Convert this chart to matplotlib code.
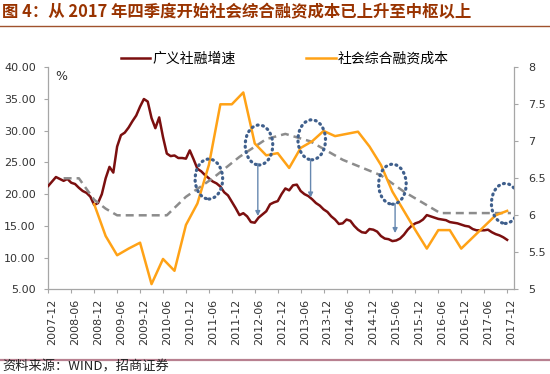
import numpy as np
import matplotlib
matplotlib.use('Agg')
import matplotlib.pyplot as plt
from matplotlib.patches import Ellipse
from matplotlib.lines import Line2D
import matplotlib.transforms as mtransforms

plt.rcParams['font.family'] = ['DejaVu Sans', 'Noto Sans CJK SC']

# ---------------- data ----------------
# month index 0 = 2007-12, 120 = 2017-12
tick_labels = ['2007-12', '2008-06', '2008-12', '2009-06', '2009-12', '2010-06',
               '2010-12', '2011-06', '2011-12', '2012-06', '2012-12', '2013-06',
               '2013-12', '2014-06', '2014-12', '2015-06', '2015-12', '2016-06',
               '2016-12', '2017-06', '2017-12']

# 广义社融增速 (%), monthly, left axis
tsf_growth = [
    21.3, 22.0, 22.7, 22.4, 22.1, 22.4, 21.8, 21.6, 21.0, 20.5,
    20.2, 19.6, 18.3, 18.6, 20.0, 22.5, 24.3, 23.4, 27.5, 29.3,
    29.7, 30.5, 31.5, 32.4, 33.8, 35.0, 34.6, 32.0, 30.4, 32.1,
    29.0, 26.4, 26.0, 26.1, 25.7, 25.7, 25.6, 26.9, 25.5, 24.0,
    23.6, 23.0, 22.5, 22.0, 21.7, 21.2, 20.3, 19.8, 18.8, 17.8,
    16.7, 17.0, 16.5, 15.6, 15.5, 16.3, 16.8, 17.3, 18.4, 18.7,
    18.9, 20.0, 20.9, 20.6, 21.4, 21.5, 20.5, 20.0, 19.7, 19.2,
    18.6, 18.2, 17.6, 17.2, 16.5, 16.0, 15.3, 15.4, 16.0, 15.8,
    15.0, 14.4, 14.0, 13.9, 14.5, 14.4, 14.1, 13.4, 13.0, 12.9,
    12.6, 12.7, 13.0, 13.6, 14.4, 15.0, 15.4, 15.6, 16.0, 16.7,
    16.5, 16.3, 16.1, 16.0, 15.9, 15.6, 15.5, 15.4, 15.2, 15.0,
    14.9, 14.5, 14.3, 14.3, 14.3, 14.4, 14.0, 13.7, 13.5, 13.2,
    12.8]

# 社会综合融资成本 (%), quarterly, right axis
cost_months = [12, 15, 18, 21, 24, 27, 30, 33, 36, 39, 42, 45, 48, 51, 54,
               57, 60, 63, 66, 69, 72, 75, 78, 81, 84, 87, 90, 93, 96, 99,
               102, 105, 108, 111, 114, 117, 120]
cost_values = [6.15, 5.72, 5.46, 5.55, 5.63, 5.07, 5.41, 5.25, 5.87, 6.16,
               6.68, 7.50, 7.50, 7.66, 6.97, 6.81, 6.84, 6.64, 6.91, 7.00,
               7.14, 7.07, 7.10, 7.13, 6.93, 6.68, 6.32, 6.06, 5.80, 5.55,
               5.80, 5.80, 5.55, 5.70, 5.85, 6.00, 6.06]

# 中枢 trend (gray dashed), right axis
trend_months = [4, 8, 12, 15, 18, 31, 36, 43, 50, 57, 62, 68.5, 77, 87, 93, 102.5, 121]
trend_values = [6.5, 6.5, 6.21, 6.09, 6.0, 6.0, 6.25, 6.5, 6.79, 7.03, 7.10,
                7.0, 6.75, 6.54, 6.32, 6.03, 6.03]

# annotation ellipses (center month, center value) and arrows (month, from, to)
circle_months = [42.0, 55.1, 68.9, 90.0, 119.5]
circle_values = [6.49, 6.95, 7.02, 6.42, 6.16]
arrow_months = [54.8, 68.6, 90.7]
arrow_starts = [6.70, 6.75, 6.16]
arrow_ends = [5.99, 6.24, 5.76]

legend_labels = ['广义社融增速', '社会综合融资成本']

# ---------------- figure ----------------
W, H = 550, 374
fig = plt.figure(figsize=(W / 100, H / 100), dpi=100)
fig.patch.set_facecolor('white')

ax_l, ax_r, ax_t, ax_b = 48.3, 514, 67.3, 289.3
ax = fig.add_axes([ax_l / W, 1 - ax_b / H, (ax_r - ax_l) / W, (ax_b - ax_t) / H])
ax2 = ax.twinx()

red = '#7B0F0F'
orange = '#FFA216'
gray = '#8C8C8C'

months = np.arange(len(tsf_growth))
ax.plot(months, tsf_growth, color=red, lw=1.8, zorder=3)
ax2.plot(trend_months, trend_values, color=gray, lw=1.8, dashes=(3.2, 2.0), zorder=2)
ax2.plot(cost_months, cost_values, color=orange, lw=1.8, zorder=3)

ax.set_xlim(0, 121.8)
ax.set_ylim(5, 40)
ax2.set_ylim(5, 8)
ax.set_yticks(np.arange(5, 41, 5))
ax.set_yticklabels([f'{v:.2f}' for v in np.arange(5, 41, 5)])
ax2.set_yticks(np.arange(5, 8.01, 0.5))
ax2.set_yticklabels([f'{v:g}' for v in np.arange(5, 8.01, 0.5)])

xt = np.arange(0, 121, 6)
ax.set_xticks(xt)
ax.set_xticklabels(tick_labels, rotation=90)

spine_c = '#A6A6A6'
for a in (ax, ax2):
    a.spines['top'].set_visible(False)
    for s in ('left', 'right', 'bottom'):
        a.spines[s].set_color(spine_c)
        a.spines[s].set_linewidth(0.9)
    a.patch.set_visible(False)
ax.spines['right'].set_visible(False)
ax2.spines['left'].set_visible(False)
ax2.spines['bottom'].set_visible(False)

ax.tick_params(axis='y', length=3, width=0.8, color=spine_c, pad=6, labelsize=8, labelcolor='#333333')
ax2.tick_params(axis='y', length=3, width=0.8, color=spine_c, pad=7, labelsize=8, labelcolor='#333333')
ax.tick_params(axis='x', length=3, width=0.8, color=spine_c, pad=4, labelsize=8, labelcolor='#333333')
offset = mtransforms.ScaledTranslation(0.04, 0, fig.dpi_scale_trans)
for lab in ax.get_xticklabels():
    lab.set_transform(lab.get_transform() + offset)

# ellipses and arrows
for cm, cv in zip(circle_months, circle_values):
    e = Ellipse((cm, cv), width=7.2, height=0.54, fill=False, edgecolor='#3F5F8C',
                lw=2.3, linestyle=(0, (0.3, 1.4)), zorder=5)
    e.set_capstyle('round')
    ax2.add_patch(e)
for am, a0, a1 in zip(arrow_months, arrow_starts, arrow_ends):
    ax2.annotate('', xy=(am, a1), xytext=(am, a0),
                 arrowprops=dict(arrowstyle='-|>', color='#6688B0', lw=1.0,
                                 mutation_scale=7, shrinkA=0, shrinkB=0), zorder=6)

# percent label
fig.text(61 / W, 1 - 76 / H, '%', fontsize=9, color='#333333', ha='center', va='center')

# legend
handles = [Line2D([], [], color=red, lw=1.8), Line2D([], [], color=orange, lw=1.8)]
fig.legend(handles, legend_labels, loc='center left', bbox_to_anchor=(121 / W, 1 - 59 / H),
           ncol=2, frameon=False, fontsize=10, handlelength=2.1, handletextpad=0.15,
           columnspacing=5.1, borderpad=0, borderaxespad=0)

# title & source
fig.text(2 / W, 1 - 12 / H, '图 4：从 2017 年四季度开始社会综合融资成本已上升至中枢以上',
         fontsize=11.8, fontweight='bold', color='#993300', ha='left', va='center',
         family=['Noto Sans CJK SC', 'DejaVu Sans'])
fig.add_artist(Line2D([0, 1], [1 - 25.5 / H, 1 - 25.5 / H], transform=fig.transFigure,
                      color='#A0522D', lw=1.0))
fig.add_artist(Line2D([0, 1], [1 - 360 / H, 1 - 360 / H], transform=fig.transFigure,
                      color='#B88090', lw=1.6))
fig.text(2 / W, 1 - 367 / H, '资料来源：WIND，招商证券', fontsize=9.5, color='#222222',
         ha='left', va='center', family=['Noto Sans CJK SC', 'DejaVu Sans'])

fig.savefig('out.png', dpi=100)
